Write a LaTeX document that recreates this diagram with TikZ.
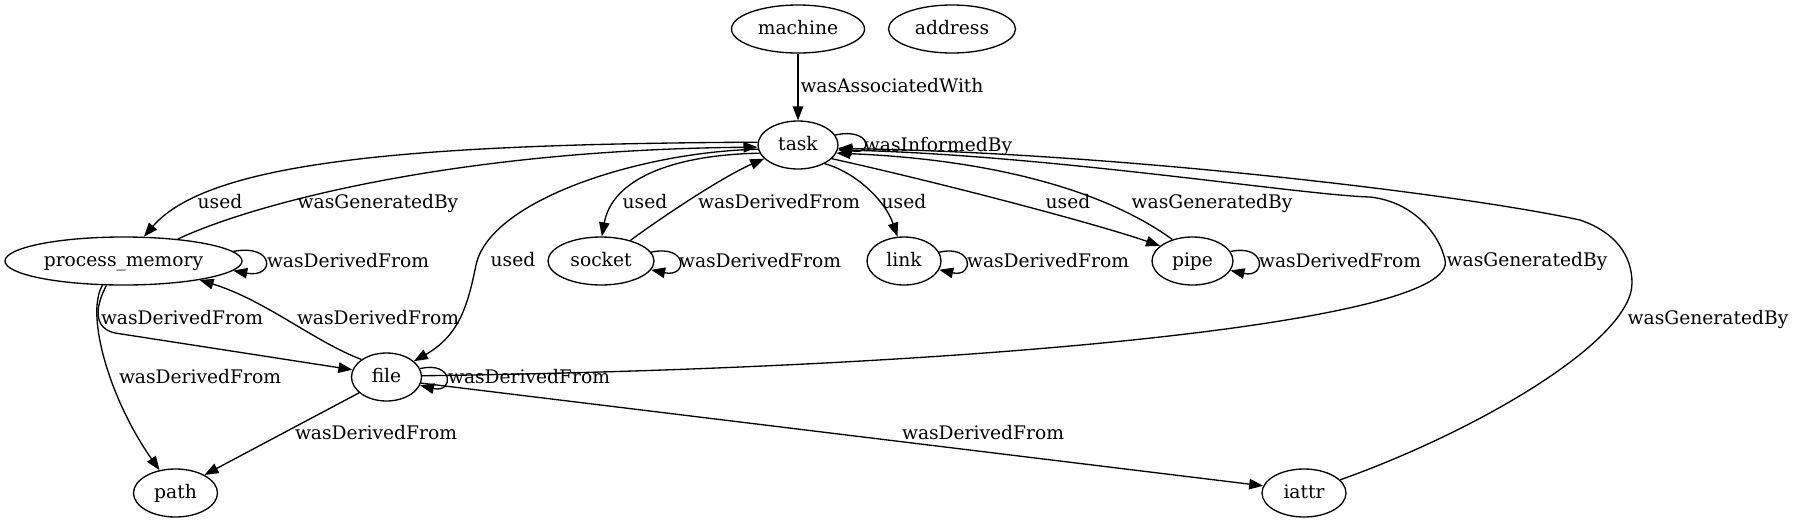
\documentclass[tikz,border=0pt]{standalone}
\usepackage{fontspec}
\setmainfont{DejaVu Serif}
\usetikzlibrary{shapes.geometric,arrows.meta}
\begin{document}
\begin{tikzpicture}[x=1pt,y=-1pt,
  every node/.style={font=\fontsize{18.67}{22}\selectfont, text height=14pt, text depth=3pt},
  nd/.style={draw, ellipse, inner sep=0pt, line width=1.33pt, minimum height=48pt},
  lbl/.style={inner sep=0pt},
  edge/.style={draw, line width=1.33pt, -{Triangle[length=14pt,width=10.5pt]}}]
\useasboundingbox (0,0) rectangle (1795,523);
% nodes
\node[nd, minimum width=133pt] (machine) at (798,29) {machine};
\node[nd, minimum width=127pt] (address) at (952,29) {address};
\node[nd, minimum width=80pt] (task) at (798,145) {task};
\node[nd, minimum width=237pt] (pm) at (123.5,261) {process\_memory};
\node[nd, minimum width=106pt] (socket) at (601,261) {socket};
\node[nd, minimum width=74pt] (link) at (904,261) {link};
\node[nd, minimum width=81pt] (pipe) at (1192.5,261) {pipe};
\node[nd, minimum width=70pt] (file) at (386.5,377) {file};
\node[nd, minimum width=84pt] (path) at (175.5,493) {path};
\node[nd, minimum width=84pt] (iattr) at (1304,493) {iattr};
% edges
\draw[edge] (machine) -- (task);
\draw[edge] (task.15) .. controls +(36,-8) and +(36,8) .. (task.-4);
\draw[edge] (task.176) .. controls (420,144) and (210,160) .. (pm.50);
\draw[edge] (pm.22) .. controls (250,205) and (450,150) .. (task.183);
\draw[edge] (pm.5) .. controls +(42,-8) and +(42,8) .. (pm.-5);
\draw[edge] (task.186) .. controls (640,152) and (490,200) .. (476,265) .. controls (468,304) and (460,335) .. (file.30);
\draw[edge] (task.192) .. controls (670,155) and (612,180) .. (socket.88);
\draw[edge] (socket.35) .. controls (655,222) and (720,178) .. (task.202);
\draw[edge] (socket.10) .. controls +(37,-8) and +(37,8) .. (socket.-10);
\draw[edge] (task.-35) .. controls (855,172) and (885,200) .. (link.105);
\draw[edge] (link.14) .. controls +(35,-8) and +(35,8) .. (link.-14);
\draw[edge] (task.-22) .. controls (950,185) and (1100,225) .. (pipe.155);
\draw[edge] (pipe.133) .. controls (1090,180) and (960,158) .. (task.-12);
\draw[edge] (pipe.14) .. controls +(36,-8) and +(36,8) .. (pipe.-14);
\draw[edge] (file.2) .. controls (1000,368) and (1460,320) .. (1445,260) .. controls (1440,236) and (1415,202) .. (1370,197) .. controls (1300,195) and (1050,155) .. (task.-7);
\draw[edge] (iattr.20) .. controls (1480,430) and (1632,340) .. (1632,283) .. controls (1632,255) and (1615,232) .. (1580,220) .. controls (1450,192) and (1100,152) .. (task.-5);
\draw[edge] (pm.235) .. controls (96,305) and (92,328) .. (115,333) -- (file.168);
\draw[edge] (file.145) .. controls (315,342) and (265,300) .. (pm.-14);
\draw[edge] (pm.229) .. controls (85,315) and (110,400) .. (path.125);
\draw[edge] (file.14) .. controls +(34,-8) and +(34,8) .. (file.-14);
\draw[edge] (file.210) -- (path.32);
\draw[edge] (file.-10) -- (iattr.170);
% labels
\node[lbl] (l1) at (892,87) {wasAssociatedWith};
\node[lbl] (l2) at (938,146) {wasInformedBy};
\node[lbl] (l3) at (220,203) {used};
\node[lbl] (l4) at (378,203) {wasGeneratedBy};
\node[lbl] (l5) at (348,262) {wasDerivedFrom};
\node[lbl] (l6) at (513,261) {used};
\node[lbl] (l7) at (645,203) {used};
\node[lbl] (l8) at (779,203) {wasDerivedFrom};
\node[lbl] (l9) at (760,262) {wasDerivedFrom};
\node[lbl] (l10) at (904,203) {used};
\node[lbl] (l11) at (1048,262) {wasDerivedFrom};
\node[lbl] (l12) at (1068,203) {used};
\node[lbl] (l13) at (1212,203) {wasGeneratedBy};
\node[lbl] (l14) at (1340,262) {wasDerivedFrom};
\node[lbl] (l15) at (1527,261) {wasGeneratedBy};
\node[lbl] (l16) at (1708,319) {wasGeneratedBy};
\node[lbl] (l17) at (182,319) {wasDerivedFrom};
\node[lbl] (l18) at (378,319) {wasDerivedFrom};
\node[lbl] (l19) at (200,378) {wasDerivedFrom};
\node[lbl] (l20) at (529,378) {wasDerivedFrom};
\node[lbl] (l21) at (376,434) {wasDerivedFrom};
\node[lbl] (l22) at (983,434) {wasDerivedFrom};
\end{tikzpicture}
\end{document}
